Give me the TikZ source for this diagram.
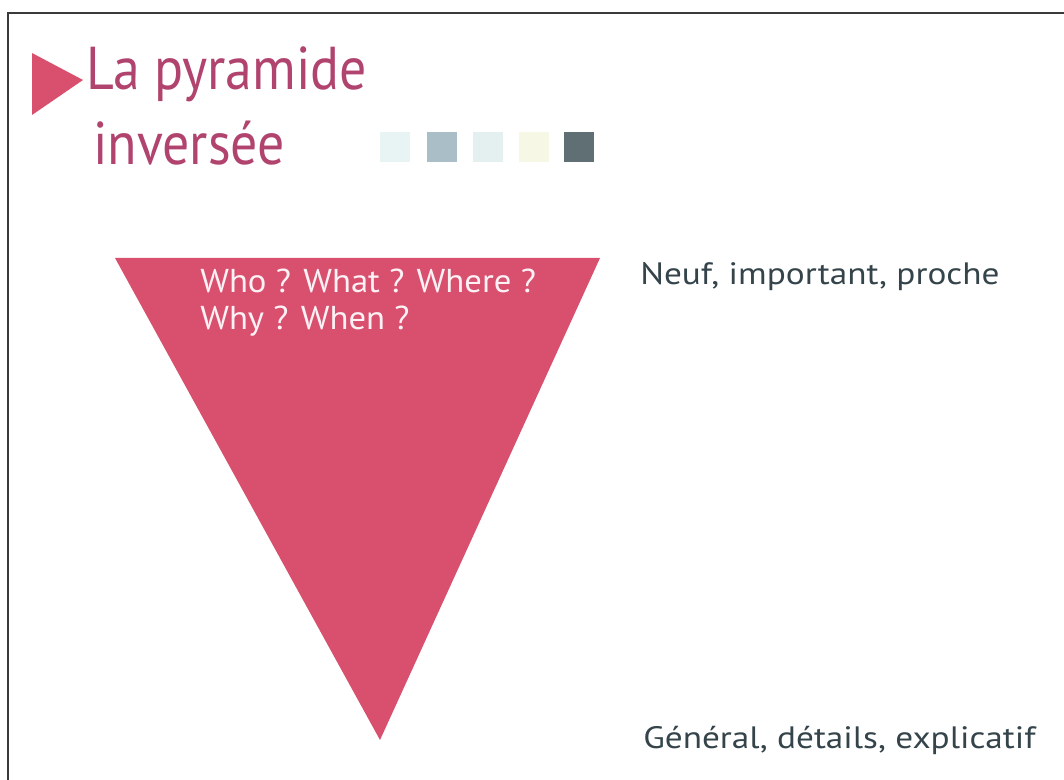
\documentclass[tikz,border=0pt]{standalone}
\usepackage{fontspec}
\setmainfont{PT Sans}
\newfontfamily\titlefont[FakeStretch=0.89]{PT Sans}
\newfontfamily\questionfont[FakeStretch=1.05]{PT Sans}
\newfontfamily\descfont[FakeStretch=1.14]{PT Sans}
\usetikzlibrary{positioning}
\definecolor{pyramidred}{HTML}{D9506F}
\definecolor{titlered}{HTML}{B1446E}
\definecolor{slate}{HTML}{34444A}
\definecolor{frame}{HTML}{3A3A3A}
\definecolor{swatch1}{HTML}{E8F4F4}
\definecolor{swatch2}{HTML}{A9BEC6}
\definecolor{swatch3}{HTML}{E4F0F0}
\definecolor{swatch4}{HTML}{F6F7E4}
\definecolor{swatch5}{HTML}{5F6F74}
\tikzset{
  % For the page frame.
  frame line/.style={
    draw=frame,
    line width=1.4pt},
%
  % For the pyramid and the marker.
  red shape/.style={
    fill=pyramidred,
    draw=none},
%
  % For the title lines.
  title/.style={
    font=\titlefont\fontsize{43}{50}\selectfont,
    text=titlered,
    anchor=base west,
    inner sep=0pt},
%
  % For the questions inside the pyramid.
  question/.style={
    font=\questionfont\fontsize{23.5}{28}\selectfont,
    text=white!92!pyramidred,
    anchor=base west,
    inner sep=0pt},
%
  % For explanations beside the pyramid.
  description/.style={
    font=\descfont\fontsize{22}{26}\selectfont,
    text=slate,
    anchor=base west,
    inner sep=0pt},
%
  % For the colour squares.
  swatch/.style={
    minimum size=22pt,
    inner sep=0pt,
    outer sep=0pt},
}

\begin{document}
\begin{tikzpicture}[x=0.025cm, y=-0.025cm]
  \useasboundingbox (0,0) rectangle (1064,780);

  \coordinate (frame top) at (1064,13);
  \coordinate (frame corner) at (8,13);
  \coordinate (frame bottom) at (8,780);

  \coordinate (A) at (115,258);
  \coordinate (B) at (600,258);
  \coordinate (C) at (380,740);

  \coordinate (M1) at (32,53);
  \coordinate (M2) at (83,80);
  \coordinate (M3) at (32,115);

  \draw[frame line] (frame top) -- (frame corner) -- (frame bottom);

  \fill[red shape] (M1) -- (M2) -- (M3) -- cycle;
  \fill[red shape] (A) -- (B) -- (C) -- cycle;

  \node[title] (title1) at (86,90) {La pyramide};
  \node[title] (title2) at (93,165) {inversée};

  \node[swatch, fill=swatch1] (sq1) at (395,147) {};
  \node[swatch, fill=swatch2] (sq2) at (442,147) {};
  \node[swatch, fill=swatch3] (sq3) at (488,147) {};
  \node[swatch, fill=swatch4] (sq4) at (534,147) {};
  \node[swatch, fill=swatch5] (sq5) at (579,147) {};

  \node[question] (who) at (200,293) {Who ? What ? Where ?};
  \node[question] (why) at (200,330) {Why ? When ?};

  \node[description] (top text) at (640,285) {Neuf, important, proche};
  \node[description] (bottom text) at (643,748) {Général, détails, explicatif};
\end{tikzpicture}
\end{document}
